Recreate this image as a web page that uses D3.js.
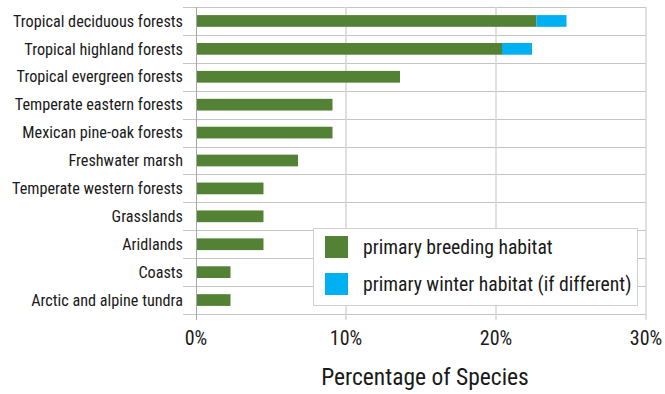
<!DOCTYPE html>
<html>
<head>
<meta charset="utf-8">
<script src="https://cdn.jsdelivr.net/npm/d3@7"></script>
<style>
  body { margin: 0; background: #fff; }
  text { font-family: "Liberation Sans Narrow", "Roboto Condensed", "Open Sans", sans-serif; fill: #1a1a1a; }
</style>
</head>
<body>
<div id="chart"></div>
<script>
var habitats = ['Tropical deciduous forests', 'Tropical highland forests', 'Tropical evergreen forests',
    'Temperate eastern forests', 'Mexican pine-oak forests', 'Freshwater marsh',
    'Temperate western forests', 'Grasslands', 'Aridlands', 'Coasts', 'Arctic and alpine tundra'];
var breeding = [22.7, 20.4, 13.6, 9.1, 9.1, 6.8, 4.5, 4.5, 4.5, 2.3, 2.3];
var winterExtra = [2.0, 2.0, 0, 0, 0, 0, 0, 0, 0, 0, 0];
var xTicks = [0, 10, 20, 30];
var seriesNames = ['primary breeding habitat', 'primary winter habitat (if different)'];
var colors = ['#548235', '#00b0f0'];

var margin = { top: 7, left: 196, bottom: 80, right: 19 },
    width = 665 - margin.left - margin.right,
    height = 394 - margin.top - margin.bottom;

var svg = d3.select('#chart').append('svg')
    .attr('width', 665)
    .attr('height', 394)
    .append('g')
    .attr('transform', 'translate(' + margin.left + ', ' + margin.top + ')');

var x = d3.scaleLinear().domain([0, 30]).range([0, width]);
var y = d3.scaleBand().domain(habitats).range([0, height]).paddingInner(0.58).paddingOuter(0.29);
var step = y.step();

// horizontal category separators (extend left as ticks)
var seps = d3.range(habitats.length + 1);
svg.selectAll('.hline')
    .data(seps)
    .enter().append('line')
    .attr('x1', -13).attr('x2', width)
    .attr('y1', d => Math.round(d * step) + 0.5)
    .attr('y2', d => Math.round(d * step) + 0.5)
    .attr('stroke', '#c4c4c4')
    .attr('stroke-width', 1);

// vertical gridlines
svg.selectAll('.vline')
    .data(xTicks.slice(1))
    .enter().append('line')
    .attr('x1', d => x(d)).attr('x2', d => x(d))
    .attr('y1', 0).attr('y2', height + 6)
    .attr('stroke', '#d6d6d6')
    .attr('stroke-width', 1.5);

// y axis line
svg.append('line')
    .attr('x1', x(0) + 0.5).attr('x2', x(0) + 0.5)
    .attr('y1', 0).attr('y2', height + 6)
    .attr('stroke', '#a6a6a6');

// bars
svg.selectAll('.bar')
    .data(habitats)
    .enter().append('rect')
    .attr('class', 'bar')
    .attr('x', x(0) + 1)
    .attr('y', d => y(d))
    .attr('width', (d, i) => x(breeding[i]) - x(0) - 1)
    .attr('height', y.bandwidth())
    .attr('fill', colors[0]);

svg.selectAll('.bar2')
    .data(habitats.filter((d, i) => winterExtra[i] > 0))
    .enter().append('rect')
    .attr('class', 'bar2')
    .attr('x', d => x(breeding[habitats.indexOf(d)]))
    .attr('y', d => y(d))
    .attr('width', d => { var i = habitats.indexOf(d); return x(breeding[i] + winterExtra[i]) - x(breeding[i]); })
    .attr('height', y.bandwidth())
    .attr('fill', colors[1]);

// category labels
svg.selectAll('.cat')
    .data(habitats)
    .enter().append('text')
    .attr('x', -13)
    .attr('y', d => y(d) + y.bandwidth() / 2)
    .attr('dy', '0.35em')
    .attr('text-anchor', 'end')
    .style('font-size', '16.2px')
    .text(d => d);

// x tick labels
svg.selectAll('.tick-label')
    .data(xTicks)
    .enter().append('text')
    .attr('x', d => x(d))
    .attr('y', height + 31)
    .attr('text-anchor', 'middle')
    .style('font-size', '20px')
    .text(d => d + '%');

// axis title
svg.append('text')
    .attr('x', width / 2 + 4)
    .attr('y', height + 71)
    .attr('text-anchor', 'middle')
    .style('font-size', '23.5px')
    .text('Percentage of Species');

// legend
var legend = svg.append('g')
    .attr('transform', 'translate(' + (313 - margin.left) + ',' + (228 - margin.top) + ')');

legend.append('rect')
    .attr('x', 0.5).attr('y', 0.5)
    .attr('width', 324).attr('height', 77)
    .attr('fill', '#fff')
    .attr('stroke', '#d0d0d0');

seriesNames.forEach((name, i) => {
    legend.append('rect')
        .attr('x', 12).attr('y', 8 + i * 37)
        .attr('width', 23).attr('height', 22)
        .attr('fill', colors[i]);
    legend.append('text')
        .attr('x', 50).attr('y', 19 + i * 37)
        .attr('dy', '0.35em')
        .style('font-size', '19.7px')
        .text(name);
});
</script>
</body>
</html>
